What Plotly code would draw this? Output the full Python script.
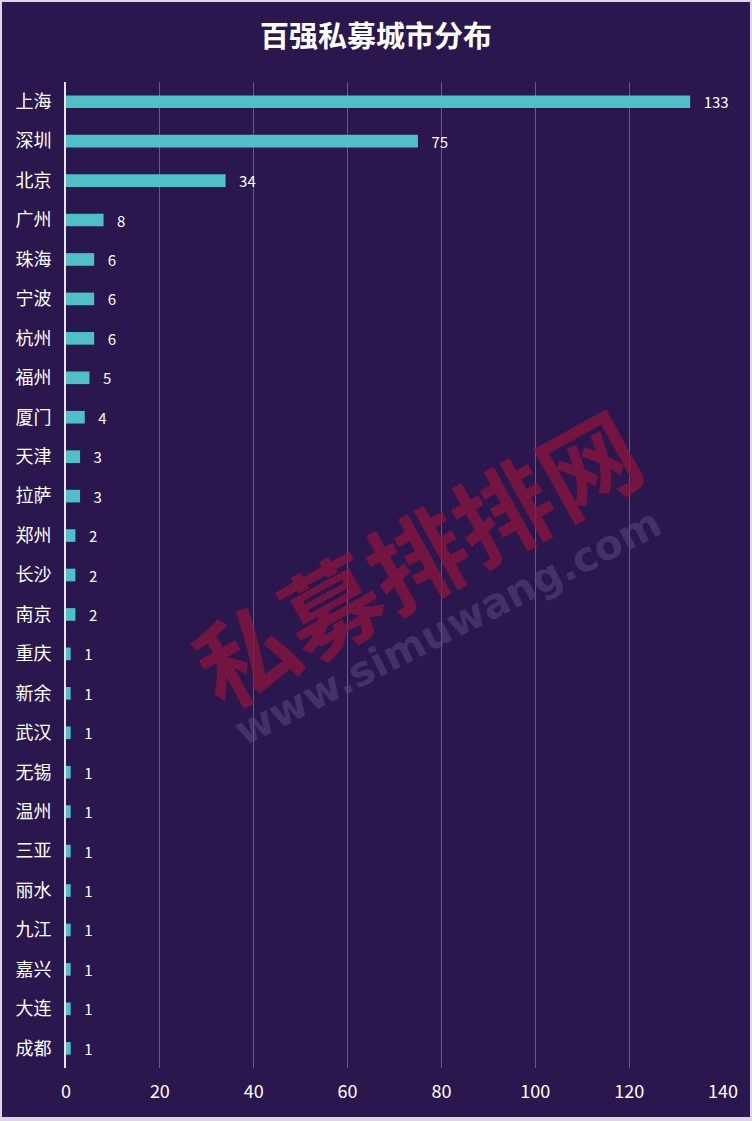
import plotly.graph_objects as go

cities = ["上海", "深圳", "北京", "广州", "珠海", "宁波", "杭州", "福州", "厦门", "天津",
          "拉萨", "郑州", "长沙", "南京", "重庆", "新余", "武汉", "无锡", "温州", "三亚",
          "丽水", "九江", "嘉兴", "大连", "成都"]
counts = [133, 75, 34, 8, 6, 6, 6, 5, 4, 3, 3, 2, 2, 2, 1, 1, 1, 1, 1, 1, 1, 1, 1, 1, 1]
x_ticks = [0, 20, 40, 60, 80, 100, 120, 140]
title_text = "百强私募城市分布"

FONT = "Noto Sans CJK SC, Microsoft YaHei, sans-serif"
BG = "#29174d"
BAR = "#4fc0c8"
W, H = 752, 1121
ML, MR, MT, MB = 66, 29, 82, 53
PW, PH = W - ML - MR, H - MT - MB

def px_x(p):
    return (p - ML) / PW

def px_y(p):
    return (H - MB - p) / PH

fig = go.Figure()
fig.add_trace(go.Bar(
    x=counts, y=cities, orientation="h",
    marker=dict(color=BAR, line=dict(width=0)),
    width=0.32,
    text=["\u2002\u2009" + str(v) for v in counts], textposition="outside",
    constraintext="none",
    textfont=dict(color="#ffffff", size=15, family=FONT),
    cliponaxis=False,
))

# watermark
fig.add_annotation(text="私募排排网", xref="paper", yref="paper", x=px_x(415), y=px_y(555),
                   showarrow=False, textangle=-29,
                   font=dict(size=98, color="rgba(140,20,62,0.75)", family=FONT, weight="bold"))
fig.add_annotation(text="www.simuwang.com", xref="paper", yref="paper", x=px_x(448), y=px_y(627),
                   showarrow=False, textangle=-27,
                   font=dict(size=41, color="rgba(95,75,130,0.5)", family="DejaVu Sans", weight="bold"))

# thin light frame around the picture
FRAME = "#dcd8e2"
for (x0, x1, y0, y1) in [(0, W, 0, 2), (0, W, H - 4, H), (0, 2, 0, H), (W - 2, W, 0, H)]:
    fig.add_shape(type="rect", xref="paper", yref="paper",
                  x0=px_x(x0), x1=px_x(x1), y0=px_y(y1), y1=px_y(y0),
                  fillcolor=FRAME, line=dict(width=0), layer="above")

fig.update_layout(
    width=W, height=H,
    paper_bgcolor=BG, plot_bgcolor=BG,
    margin=dict(l=ML, r=MR, t=MT, b=MB),
    title=dict(text=title_text, x=0.5, xanchor="center", y=1 - 37 / H, yanchor="middle",
               font=dict(size=29, color="#ffffff", family=FONT, weight="bold")),
    showlegend=False,
    bargap=0.68,
    xaxis=dict(range=[0, 140], tickvals=x_ticks, showgrid=True, gridcolor="#66569a", gridwidth=1.3,
               zeroline=False, showline=False, ticks="", ticklabelstandoff=11,
               tickfont=dict(color="#ffffff", size=18, family=FONT)),
    yaxis=dict(autorange="reversed", showgrid=False, showline=True, linecolor="#e8e4f4", linewidth=2,
               ticks="", ticklabelstandoff=9, zeroline=False,
               tickfont=dict(color="#ffffff", size=18, family=FONT)),
)
fig.write_html("out.html", config={"displayModeBar": False},
               post_script="document.body.style.margin='0';document.body.style.overflow='hidden';")
